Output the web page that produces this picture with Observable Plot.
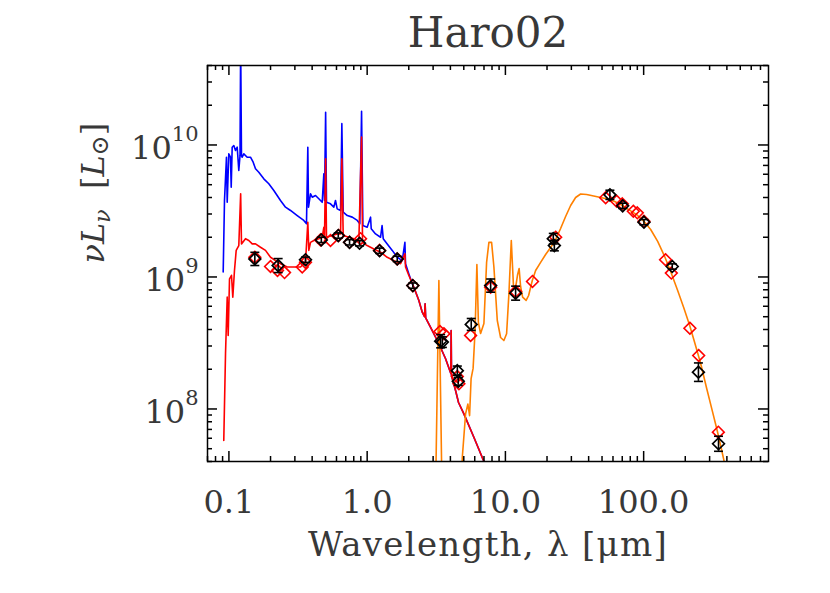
<!DOCTYPE html>
<html><head><meta charset="utf-8">
<script src="https://cdn.jsdelivr.net/npm/d3@7"></script>
<script src="https://cdn.jsdelivr.net/npm/@observablehq/plot@0.6"></script>
<style>
body{margin:0;background:#fff;}
#chart{width:830px;height:593px;}
.xlab text{letter-spacing:1.3px;}
</style></head><body><div id="chart"></div>
<script>
const title = "Haro02";
const xLabel = "Wavelength, λ [μm]";
const yLabel = "νLν  [L⊙]";
const xTicksMajor = [0.1, 1, 10, 100];
const xTickLabels = ["0.1", "1.0", "10.0", "100.0"];
const yTicksMajor = [1e8, 1e9, 1e10];
const yTickExponents = ["8", "9", "10"];

// unattenuated stellar spectrum (blue)
const blueWl = [0.0909,0.0929,0.0960,0.0972,0.0998,0.1026,0.1039,0.1056,0.1085,0.1116,0.1148,0.1179,0.1203,0.1216,0.1233,0.1247,0.1281,0.1356,0.1432,0.1498,0.1557,0.1645,0.1788,0.1943,0.2113,0.2361,0.2567,0.279,0.312,0.348,0.364,0.3722,0.3765,0.3894,0.4006,0.423,0.447,0.473,0.486,0.4915,0.5007,0.508,0.543,0.574,0.590,0.607,0.642,0.656,0.671,0.718,0.78,0.848,0.885,0.911,0.931,1.0,1.058,1.07,1.15,1.25,1.282,1.307,1.397,1.519,1.651,1.794,1.875,1.895,2.0,2.12];
const blueL = [1.09e9,3.8e9,8.08e9,3.68e9,8.57e9,8.08e9,4.79e9,9.62e9,9.9e9,9.08e9,9.62e9,6.41e9,8.3e9,6e10,8.3e9,8.08e9,8.57e9,8.08e9,8.08e9,7.4e9,6.6e9,6.22e9,5.54e9,5.08e9,4.52e9,3.8e9,3.38e9,3.19e9,2.92e9,2.68e9,2.53e9,9.62e9,3.38e9,4.27e9,4.02e9,4.14e9,3.91e9,3.68e9,6.05e9,3.8e9,1.77e10,3.68e9,3.58e9,3.38e9,3.8e9,3.28e9,3.19e9,1.45e10,3.1e9,2.92e9,2.84e9,2.68e9,2.53e9,1.8e10,2.45e9,2.38e9,2.84e9,2.32e9,2.12e9,2.0e9,2.45e9,1.95e9,1.78e9,1.59e9,1.41e9,1.33e9,1.83e9,1.26e9,1.06e9,8.87e8];

// attenuated stellar spectrum (red)
const redWl = [0.0918,0.0945,0.0972,0.0988,0.101,0.1044,0.1067,0.1097,0.1129,0.1179,0.1216,0.1233,0.1318,0.1393,0.1474,0.1557,0.1692,0.1839,0.2,0.2174,0.2361,0.264,0.2947,0.3297,0.358,0.3722,0.3784,0.3894,0.4113,0.447,0.473,0.486,0.4915,0.5007,0.508,0.559,0.607,0.642,0.656,0.671,0.737,0.801,0.871,0.911,0.926,1.0,1.118,1.25,1.397,1.56,1.744,1.875,1.895,2.0,2.177,2.366,2.503,2.60,2.626,2.65,2.958,3.302,3.692,4.03,4.052,4.075,4.36,4.58,5.008,5.913,6.99,7.81];
const redL = [5.77e7,2.62e8,7.03e8,3.6e8,9.68e8,1.03e9,7.03e8,1.12e9,1.59e9,1.73e9,4.27e9,1.78e9,1.95e9,1.89e9,1.78e9,1.78e9,1.68e9,1.59e9,1.41e9,1.33e9,1.26e9,1.19e9,1.19e9,1.19e9,1.29e9,2.6e9,1.59e9,1.83e9,1.89e9,1.95e9,2.0e9,2.38e9,2.0e9,7.85e9,2.0e9,2.06e9,2.12e9,2.12e9,7.85e9,2.06e9,2.0e9,1.95e9,1.89e9,1.15e10,1.83e9,1.73e9,1.63e9,1.54e9,1.41e9,1.33e9,1.26e9,1.5e9,1.19e9,1.03e9,8.36e8,6.63e8,5.41e8,5.0e8,6.26e8,4.9e8,3.93e8,3.12e8,2.4e8,1.86e8,3.93e8,1.79e8,1.38e8,1.12e8,9.19e7,6.11e7,4.0e7,2.97e7];

// dust emission (orange)
const dustWl = [3.022,3.151,3.302,3.453,3.571,4.74,4.877,5.152,5.353,5.507,5.647,5.838,6.036,6.219,6.377,6.615,6.99,7.31,7.597,7.945,8.257,8.736,9.23,9.75,10.2,10.6,11.03,11.46,11.85,12.25,12.57,12.88,13.32,14.12,14.72,15.65,16.54,17.98,19.54,21.23,23.08,25.08,27.26,29.64,32.21,35.0,38.7,43.5,48.9,54.9,61.7,69.3,77.9,89.0,100,112.4,126.3,141.9,156.8,176.2,194.8,215.3,233.9,258.5,285.8,310.5,337.6,360.8,382.3,405.4];
const dustL = [1e7,4.0e7,9.4e8,4.0e7,1e7,1e7,4.29e7,9.19e7,1.09e8,8.91e7,1.70e8,2.03e8,3.93e8,1.24e9,4.52e8,3.73e8,4.44e8,1.29e9,1.83e9,1.83e9,1.19e9,4.68e8,3.48e8,3.30e8,3.71e8,7.45e8,1.89e9,8.18e8,8.32e8,1.04e9,1.16e9,8.47e8,7.04e8,6.64e8,7.24e8,9.4e8,1.12e9,1.29e9,1.48e9,1.67e9,1.92e9,2.33e9,2.87e9,3.48e9,4.0e9,4.25e9,4.22e9,4.11e9,4.0e9,3.9e9,3.73e9,3.51e9,3.24e9,2.97e9,2.65e9,2.29e9,1.86e9,1.43e9,1.1e9,7.9e8,5.87e8,4.29e8,3.19e8,2.21e8,1.43e8,1.01e8,7.11e7,5.28e7,4.0e7,2.97e7];

// observed photometry (black) with errors in dex
const obsWl = [0.154,0.227,0.358,0.466,0.618,0.746,0.881,1.23,1.65,2.14,3.40,3.50,4.49,4.56,5.66,7.82,11.85,22.2,22.6,57.0,70.5,100.5,161,249,348];
const obsL = [1.37e9,1.22e9,1.35e9,1.91e9,2.06e9,1.83e9,1.80e9,1.58e9,1.37e9,8.6e8,3.26e8,3.21e8,1.95e8,1.62e8,4.37e8,8.6e8,7.54e8,1.95e9,1.73e9,4.19e9,3.46e9,2.60e9,1.20e9,1.90e8,5.45e7];
const obsErr = [0.05,0.053,0.02,0.02,0.02,0.02,0.02,0.02,0.02,0.02,0.05,0.04,0.035,0.03,0.045,0.05,0.053,0.04,0.04,0.035,0.02,0.02,0.02,0.07,0.057];

// model photometry (red diamonds)
const modelWl = [0.154,0.200,0.2246,0.2525,0.339,0.358,0.46,0.543,0.621,0.746,0.896,1.23,1.65,2.14,3.36,3.59,4.49,4.61,5.6,7.82,11.85,15.7,23.1,53.1,63.8,70.1,84.2,90,100.5,144,158.6,216,250,347];
const modelL = [1.41e9,1.2e9,1.12e9,1.08e9,1.19e9,1.29e9,1.91e9,1.89e9,2.06e9,1.83e9,1.95e9,1.59e9,1.37e9,8.6e8,3.86e8,3.71e8,1.76e8,1.55e8,3.61e8,8.36e8,7.76e8,9.25e8,2.0e9,3.98e9,3.75e9,3.58e9,3.15e9,3.06e9,2.64e9,1.35e9,1.07e9,4.09e8,2.54e8,6.67e7];

const zip = (a, b) => a.map((w, i) => ({wl: w, L: b[i]}));
const red = zip(redWl, redL);
const blue = zip(blueWl, blueL).concat(red.filter(d => d.wl > 2.15));
const dust = zip(dustWl, dustL);
const obs = obsWl.map((w, i) => ({wl: w, L: obsL[i], lo: obsL[i] / Math.pow(10, obsErr[i]), hi: obsL[i] * Math.pow(10, obsErr[i])}));
const model = zip(modelWl, modelL);

const minorX = [0.01, 0.1, 1, 10, 100].flatMap(d => [2,3,4,5,6,7,8,9].map(k => d * k)).filter(v => v > 0.0699 && v < 799);
const minorY = [1e7, 1e8, 1e9, 1e10].flatMap(d => [2,3,4,5,6,7,8,9].map(k => d * k)).filter(v => v > 3.99e7 && v < 4.01e10);

const W = 830, Hh = 593, mL = 207, mR = 62, mT = 65, mB = 132;
const FW = W - mL - mR, FH = Hh - mT - mB;
const capSymbol = {draw(ctx, size) { const r = Math.sqrt(size / Math.PI); ctx.moveTo(-r, 0); ctx.lineTo(r, 0); }};
const ink = "#383838";
const lw = 1.6;

const chart = Plot.plot({
  width: W, height: Hh,
  marginLeft: mL, marginRight: mR, marginTop: mT, marginBottom: mB,
  style: {fontFamily: "DejaVu Serif", background: "white"},
  x: {type: "log", domain: [0.07, 800], axis: null},
  y: {type: "log", domain: [4e7, 4e10], axis: null},
  marks: [
    Plot.line(blue, {x: "wl", y: "L", stroke: "#0000ff", strokeWidth: lw, clip: true}),
    Plot.line(red, {x: "wl", y: "L", stroke: "#ff0000", strokeWidth: lw, clip: true}),
    Plot.line(dust, {x: "wl", y: "L", stroke: "#ff8000", strokeWidth: lw, clip: true}),
    Plot.dot(model, {x: "wl", y: "L", symbol: "diamond2", r: 5.3, stroke: "#ff0000", strokeWidth: 1.6, fill: "none"}),
    Plot.ruleX(obs, {x: "wl", y1: "lo", y2: "hi", stroke: "black", strokeWidth: 1.6}),
    Plot.dot(obs, {x: "wl", y: "lo", symbol: capSymbol, r: 4.5, stroke: "black", strokeWidth: 1.6}),
    Plot.dot(obs, {x: "wl", y: "hi", symbol: capSymbol, r: 4.5, stroke: "black", strokeWidth: 1.6}),
    Plot.dot(obs, {x: "wl", y: "L", symbol: "diamond2", r: 5.3, stroke: "black", strokeWidth: 1.7, fill: "none"}),
    // ticks (inward, on all four sides)
    Plot.tickX(xTicksMajor, {x: d => d, insetTop: FH - 10, stroke: "black", strokeWidth: 1.5}),
    Plot.tickX(xTicksMajor, {x: d => d, insetBottom: FH - 10, stroke: "black", strokeWidth: 1.5}),
    Plot.tickX(minorX, {x: d => d, insetTop: FH - 5, stroke: "black", strokeWidth: 1.5}),
    Plot.tickX(minorX, {x: d => d, insetBottom: FH - 5, stroke: "black", strokeWidth: 1.5}),
    Plot.tickY(yTicksMajor, {y: d => d, insetRight: FW - 10, stroke: "black", strokeWidth: 1.5}),
    Plot.tickY(yTicksMajor, {y: d => d, insetLeft: FW - 10, stroke: "black", strokeWidth: 1.5}),
    Plot.tickY(minorY, {y: d => d, insetRight: FW - 5, stroke: "black", strokeWidth: 1.5}),
    Plot.tickY(minorY, {y: d => d, insetLeft: FW - 5, stroke: "black", strokeWidth: 1.5}),
    Plot.frame({stroke: "black", strokeWidth: 1.5}),
    // tick labels
    Plot.text(xTicksMajor, {x: d => d, text: (d, i) => xTickLabels[i], frameAnchor: "bottom", dy: 51, lineAnchor: "bottom", fontSize: 32, fill: ink}),
    Plot.text(yTicksMajor, {y: d => d, text: (d, i) => "10^" + yTickExponents[i], frameAnchor: "left", dx: -9, dy: 4, textAnchor: "end", lineAnchor: "middle", fontSize: 32, fill: ink}),
    // axis titles
    Plot.text([xLabel], {text: d => d, frameAnchor: "bottom", dy: 94, lineAnchor: "bottom", fontSize: 34, fill: ink, className: "xlab"}),
    Plot.text([yLabel], {text: d => d, frameAnchor: "left", dx: -104, rotate: -90, lineAnchor: "bottom", fontSize: 32, fill: ink}),
    Plot.text([title], {text: d => d, frameAnchor: "top", dy: -19, lineAnchor: "bottom", fontSize: 42, fill: ink})
  ]
});

const NS = "http://www.w3.org/2000/svg";
function tspan(parent, txt, attrs) {
  const t = document.createElementNS(NS, "tspan");
  t.textContent = txt;
  for (const k in attrs) t.setAttribute(k, attrs[k]);
  parent.appendChild(t);
}
chart.querySelectorAll("text").forEach(t => {
  const s = t.textContent;
  if (s.startsWith("10^")) {
    t.textContent = "";
    tspan(t, "10", {});
    tspan(t, s.slice(3), {"font-size": 21, dy: -18});
  } else if (s === yLabel) {
    t.textContent = "";
    tspan(t, "ν", {"font-style": "italic"});
    tspan(t, "L", {"font-style": "italic"});
    tspan(t, "ν", {"font-style": "italic", "font-size": 22, dy: 6});
    tspan(t, "  [", {dy: -6});
    tspan(t, "L", {"font-style": "italic"});
    tspan(t, "⊙", {"font-size": 24, dy: 4});
    tspan(t, "]", {dy: -4});
  }
});
document.getElementById("chart").appendChild(chart);
</script>
</body></html>
